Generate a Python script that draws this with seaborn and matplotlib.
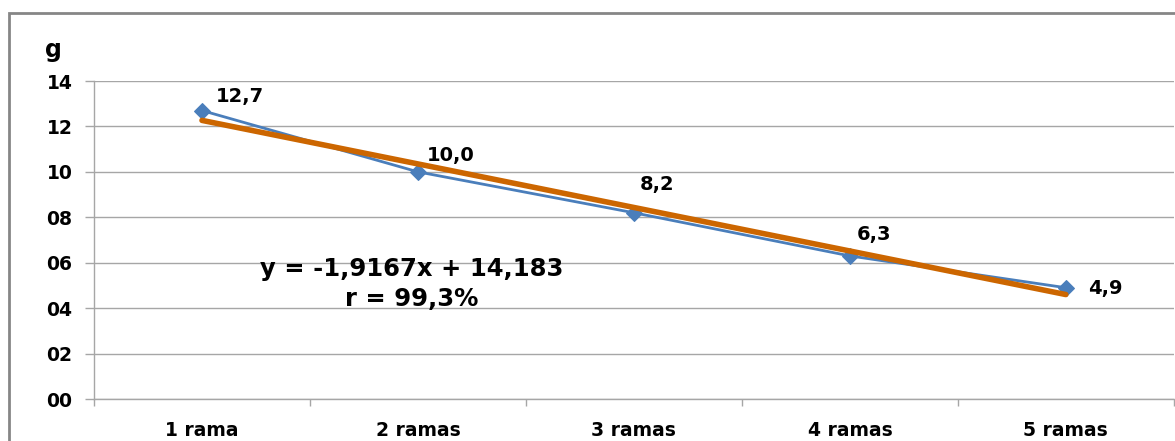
import matplotlib
matplotlib.use("Agg")
import matplotlib.pyplot as plt
import seaborn as sns
import numpy as np
import pandas as pd
from matplotlib.patches import Rectangle
from matplotlib.ticker import FixedLocator, FuncFormatter

# Data
categories = ["1 rama", "2 ramas", "3 ramas", "4 ramas", "5 ramas"]
weights = [12.7, 10.0, 8.2, 6.3, 4.9]
value_labels = ["12,7", "10,0", "8,2", "6,3", "4,9"]
slope = -1.9167
intercept = 14.183
equation_text = "y = -1,9167x + 14,183\nr = 99,3%"

# label offsets from each point (pixels: right, up)
label_offsets_px = [(14, 14), (9, 16), (6, 28), (7, 21), (22, -1)]

sns.set_theme(style="white")
plt.rcParams["font.family"] = ["DejaVu Sans"]
plt.rcParams["text.color"] = "black"
plt.rcParams["xtick.labelcolor"] = "black"
plt.rcParams["ytick.labelcolor"] = "black"

DPI = 100
PX = 72 / DPI

pos = np.arange(1, len(categories) + 1)
df = pd.DataFrame({"pos": pos, "peso": weights})
trend = pd.DataFrame({"pos": pos, "peso": slope * pos + intercept})

fig = plt.figure(figsize=(11.75, 4.41), dpi=DPI)
ax = fig.add_axes([0.080, 0.0952, 0.919, 0.7211])

blue = "#4A7EBB"
orange = "#CC6600"

sns.lineplot(data=df, x="pos", y="peso", ax=ax, color=blue, linewidth=2.0,
             marker="D", markersize=8, markeredgecolor=blue, zorder=3)
sns.lineplot(data=trend, x="pos", y="peso", ax=ax, color=orange,
             linewidth=4.0, zorder=4)

for x, y, t, (dx, dy) in zip(pos, weights, value_labels, label_offsets_px):
    ax.annotate(t, (x, y), xytext=(dx * PX, dy * PX), textcoords="offset points",
                fontsize=14, fontweight="bold", ha="left", va="center",
                color="black")

ax.annotate(equation_text, xy=(0, 0), xycoords="figure pixels",
            xytext=(412, 441 - 284), textcoords="figure pixels",
            ha="center", va="center", fontsize=17.5, fontweight="bold",
            linespacing=1.35, color="black", zorder=5)

ax.set_xlim(0.5, 5.5)
ax.set_ylim(0, 14)
ax.set_yticks(np.arange(0, 15, 2))
ax.yaxis.set_major_formatter(FuncFormatter(lambda v, _: f"{int(v):02d}"))
ax.yaxis.grid(True, color="#A6A6A6", linewidth=1.0)
ax.xaxis.grid(False)

ax.xaxis.set_major_locator(FixedLocator(np.arange(0.5, 5.6, 1)))
ax.xaxis.set_major_formatter(FuncFormatter(lambda v, _: ""))
ax.xaxis.set_minor_locator(FixedLocator(pos))
ax.set_xticklabels(categories, minor=True)
ax.tick_params(axis="x", which="major", length=5, width=1, color="#A6A6A6",
               direction="out", bottom=True)
ax.tick_params(axis="x", which="minor", length=0, pad=16, labelsize=13.5,
               labelcolor="black")
ax.tick_params(axis="y", length=6.5, width=1, color="#A6A6A6", direction="out",
               left=True, pad=9, labelsize=13.5, labelcolor="black")
for lab in ax.get_xticklabels(minor=True) + ax.get_yticklabels():
    lab.set_fontweight("bold")

for side in ["top", "right"]:
    ax.spines[side].set_visible(False)
for side in ["left", "bottom"]:
    ax.spines[side].set_color("#A6A6A6")
    ax.spines[side].set_linewidth(1.0)

ax.set_xlabel("")
ax.set_ylabel("")
fig.text(53 / 1175, 1 - 50 / 441, "g", fontsize=17, fontweight="bold",
         ha="center", va="center", color="black")

# chart border
fig.patches.append(Rectangle((9 / 1175, -0.05), 1.2, 1 - 13 / 441 + 0.05,
                             transform=fig.transFigure, fill=False,
                             edgecolor="#868686", linewidth=2, clip_on=False))

fig.savefig("out.png", dpi=DPI)
